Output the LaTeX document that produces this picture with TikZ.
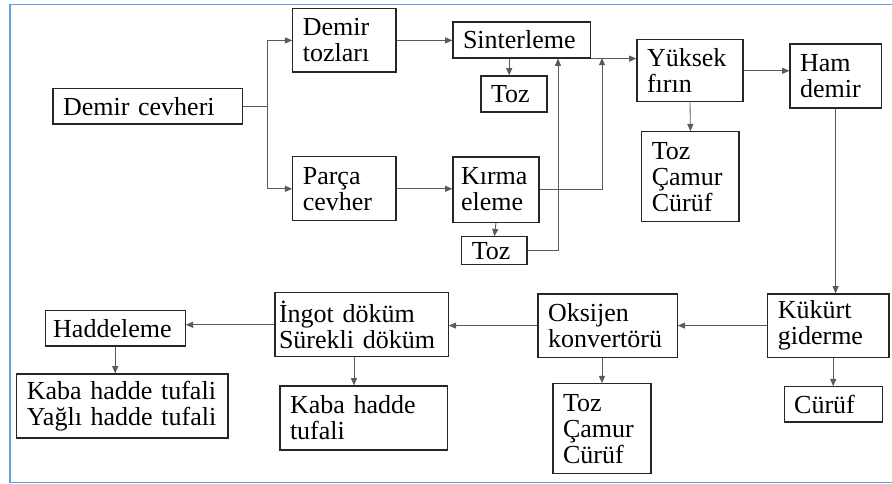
\documentclass[tikz,border=0pt]{standalone}
\usepackage{fontspec}
\setmainfont{Liberation Serif}
\usetikzlibrary{arrows.meta}
\definecolor{cerceve}{RGB}{100,160,220}
\definecolor{hat}{RGB}{90,90,90}
\begin{document}
\begin{tikzpicture}[
        >={Triangle[length=1.8mm,width=1.5mm]},
        kutu/.style={draw=black!85,line width=0.9pt,align=left,inner xsep=0.25cm,
            font=\fontsize{18.5}{18.5}\selectfont},
        ok/.style={->,draw=hat,line width=0.6pt}
    ]
                \useasboundingbox (0,0) rectangle (22.3,12.1);
                \draw[color=cerceve,line width=1pt] (22.3,11.99) -- (0.25,11.99) -- (0.25,0.03) -- (22.3,0.03);

                % ust sira
                \node[kutu,text width=4.23cm,minimum height=0.88cm] (cevheri) at (3.69,9.44) {Demir cevheri};
                \node[kutu,text width=2.08cm,minimum height=1.58cm] (tozlari) at (8.61,11.09) {Demir\\tozları};
                \node[kutu,text width=2.08cm,minimum height=1.6cm] (parca) at (8.61,7.38) {Parça\\cevher};
                \node[kutu,text width=2.93cm,minimum height=0.9cm] (sinter) at (13.04,11.1) {Sinterleme};
                \node[kutu,text width=1.15cm,minimum height=0.9cm] (toz1) at (12.85,9.75) {Toz};
                \node[kutu,inner xsep=0.2cm,text width=1.75cm,minimum height=1.63cm] (kirma) at (12.4,7.36) {Kırma\\eleme};
                \node[kutu,text width=1.13cm,minimum height=0.7cm] (toz2) at (12.36,5.83) {Toz};
                \node[kutu,text width=2.15cm,minimum height=1.55cm] (yuksek) at (17.25,10.33) {Yüksek\\fırın};
                \node[kutu,text width=1.93cm,minimum height=2.25cm] (atik1) at (17.26,7.68) {Toz\\Çamur\\Cürüf};
                \node[kutu,text width=1.78cm,minimum height=1.6cm] (ham) at (20.89,10.2) {Ham\\demir};

                % alt sira
                \node[kutu,text width=2.53cm,minimum height=1.58cm] (kukurt) at (20.71,3.96) {Kükürt\\giderme};
                \node[kutu,text width=1.95cm,minimum height=0.88cm] (curuf) at (20.83,1.99) {Cürüf};
                \node[kutu,text width=2.98cm,minimum height=1.58cm] (oksijen) at (15.19,3.96) {Oksijen\\konvertörü};
                \node[kutu,text width=1.95cm,minimum height=2.25cm] (atik2) at (15.05,1.38) {Toz\\Çamur\\Cürüf};
                \node[kutu,inner xsep=0.1cm,text width=4.13cm,minimum height=1.6cm] (ingot) at (9.04,3.98) {İngot döküm\\Sürekli döküm};
                \node[kutu,text width=3.68cm,minimum height=1.6cm] (tufal1) at (9.09,1.65) {Kaba hadde\\tufali};
                \node[kutu,inner xsep=0.2cm,text width=3.1cm,minimum height=0.88cm] (hadde) at (2.88,3.89) {Haddeleme};
                \node[kutu,text width=4.78cm,minimum height=1.6cm] (tufal2) at (3.06,1.95) {Kaba hadde tufali\\Yağlı hadde tufali};

                \coordinate (birles) at (15.05,10.65);

                \draw[ok] (cevheri.east) -- ++(0.625,0) |- (tozlari.west);
                \draw[ok] (cevheri.east) -- ++(0.625,0) |- (parca.west);
                \draw[ok] (tozlari.east) -- (tozlari.east -| sinter.west);
                \draw[ok] (parca.east) -- (parca.east -| kirma.west);
                \draw[ok] ([xshift=-0.12cm]toz1.north |- sinter.south) -- ([xshift=-0.12cm]toz1.north);
                \draw[ok] (kirma.south) -- (toz2.north);
                \draw[ok] (toz2.east) -| ([xshift=0.91cm]sinter.south);
                \draw[ok] (sinter.south east) -- (sinter.south east -| yuksek.west);
                \draw[ok] (kirma.east) -| (birles);
                \draw[ok] (yuksek.east) -- (yuksek.east -| ham.west);
                \draw[ok] (yuksek.south) -- (atik1.north);
                \draw[ok] (ham.south) -- (ham.south |- kukurt.north);
                \draw[ok] (kukurt.west) -- (kukurt.west -| oksijen.east);
                \draw[ok] (curuf.north |- kukurt.south) -- (curuf.north);
                \draw[ok] (oksijen.west) -- (oksijen.west -| ingot.east);
                \draw[ok] (atik2.north |- oksijen.south) -- (atik2.north);
                \draw[ok] (ingot.west) -- (ingot.west -| hadde.east);
                \draw[ok] ([xshift=-0.19cm]ingot.south) -- ([xshift=-0.24cm]tufal1.north);
                \draw[ok] (hadde.south) -- (hadde.south |- tufal2.north);

            \end{tikzpicture}
\end{document}
